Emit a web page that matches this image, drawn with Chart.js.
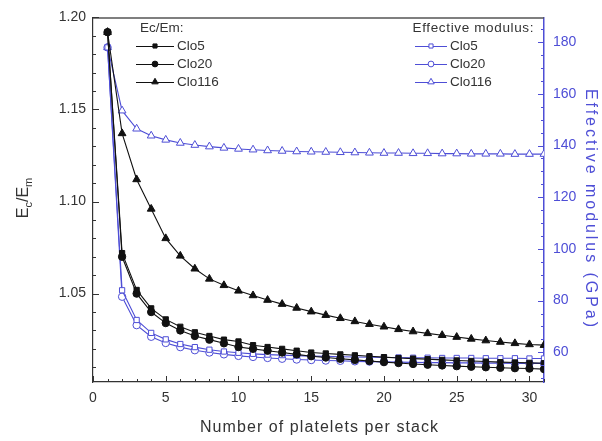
<!DOCTYPE html>
<html>
<head>
<meta charset="utf-8">
<script src="https://cdn.jsdelivr.net/npm/chart.js@4"></script>
<style>
  html, body { margin: 0; padding: 0; background: #fff; }
  #wrap { width: 602px; height: 441px; }
</style>
</head>
<body>
<div id="wrap"><canvas id="chart"></canvas></div>
<script>
// platelets per stack
const platelets = [1, 2, 3, 4, 5, 6, 7, 8, 9, 10, 11, 12, 13, 14, 15, 16, 17, 18, 19, 20,
  21, 22, 23, 24, 25, 26, 27, 28, 29, 30, 31];

// Ec/Em (left axis)
const ratioClo5 = [1.192, 1.072, 1.052, 1.042, 1.036, 1.032, 1.029, 1.027, 1.025, 1.024,
  1.022, 1.021, 1.020, 1.019, 1.018, 1.0175, 1.017, 1.0165, 1.016, 1.0155, 1.015,
  1.0147, 1.0144, 1.014, 1.0137, 1.0134, 1.0131, 1.0128, 1.0126, 1.0124, 1.0122];
const ratioClo20 = [1.192, 1.070, 1.050, 1.040, 1.034, 1.030, 1.027, 1.025, 1.023, 1.021,
  1.020, 1.019, 1.018, 1.017, 1.016, 1.0153, 1.0146, 1.014, 1.0134, 1.0128, 1.0123,
  1.0118, 1.0114, 1.011, 1.0106, 1.0103, 1.010, 1.0097, 1.0095, 1.0093, 1.009];
const ratioClo116 = [1.192, 1.137, 1.112, 1.096, 1.080, 1.0705, 1.0635, 1.058, 1.0545, 1.0515,
  1.049, 1.0465, 1.0443, 1.0422, 1.0402, 1.0383, 1.0366, 1.0349, 1.0334, 1.032, 1.0306,
  1.0294, 1.0284, 1.0274, 1.0264, 1.0254, 1.0245, 1.0237, 1.023, 1.0224, 1.022];

// effective modulus, GPa (right axis)
const modClo5 = [178, 84, 72.5, 67.5, 65, 63.2, 62, 61, 60.3, 59.8, 59.4, 59.1, 58.9, 58.7,
  58.5, 58.4, 58.3, 58.2, 58.1, 58.0, 58.0, 57.9, 57.9, 57.8, 57.8, 57.8, 57.7, 57.7,
  57.7, 57.6, 57.6];
const modClo20 = [178, 81.5, 70.5, 66, 63.6, 62, 60.8, 59.9, 59.2, 58.6, 58.2, 57.8, 57.5,
  57.2, 57.0, 56.8, 56.7, 56.5, 56.4, 56.3, 56.2, 56.1, 56.0, 56.0, 55.9, 55.9, 55.8,
  55.8, 55.7, 55.7, 55.7];
const modClo116 = [178, 153.5, 146.5, 143.8, 142.2, 141, 140.2, 139.6, 139.1, 138.7, 138.4,
  138.1, 137.9, 137.7, 137.6, 137.5, 137.4, 137.3, 137.2, 137.1, 137.1, 137.0, 137.0,
  136.9, 136.9, 136.8, 136.8, 136.8, 136.7, 136.7, 136.7];

const xTicks = [0, 5, 10, 15, 20, 25, 30];
const leftTicks = [1.05, 1.10, 1.15, 1.20];
const rightTicks = [60, 80, 100, 120, 140, 160, 180];

const BLUE = "#4e4ed6";
const INK = "#333";
const FONT = "'Liberation Sans', Arial, sans-serif";

const pts = vals => platelets.map((x, i) => ({ x: x, y: vals[i] }));

function series(label, vals, axis, color, style, filled) {
  return {
    label: label,
    data: pts(vals),
    yAxisID: axis,
    borderColor: color,
    backgroundColor: filled ? color : "#fff",
    pointBorderColor: color,
    pointBackgroundColor: filled ? color : "#fff",
    pointStyle: style,
    pointRadius: style === "triangle" ? 4.5 : 3.7,
    pointBorderWidth: 1,
    borderWidth: 1.1,
    tension: 0
  };
}

// draw text stretched to a given length with letter spacing
function fitText(ctx, text, size, target, x, y) {
  ctx.font = size + "px " + FONT;
  ctx.letterSpacing = "0px";
  const w = ctx.measureText(text).width;
  const sp = Math.max(0, (target - w) / (text.length - 1));
  ctx.letterSpacing = sp + "px";
  ctx.textAlign = "left";
  ctx.fillText(text, x - (w + sp * (text.length - 1)) / 2, y);
  ctx.letterSpacing = "0px";
}

// inward ticks, top edge, legends and axis titles
const decor = {
  id: "decor",
  afterDraw(chart) {
    const { ctx, chartArea: a, scales } = chart;
    ctx.save();

    ctx.strokeStyle = "#555";
    ctx.lineWidth = 1.5;
    ctx.beginPath();
    ctx.moveTo(a.left, a.top + 0.5);
    ctx.lineTo(a.right, a.top + 0.5);
    ctx.stroke();
    ctx.lineWidth = 1;

    function vTicks(scale, from, to, step, majors, x, dir, color) {
      ctx.strokeStyle = color;
      for (let v = from; v <= to + 1e-9; v += step) {
        const y = Math.round(scale.getPixelForValue(v)) + 0.5;
        if (y < a.top || y > a.bottom) continue;
        const major = majors.some(m => Math.abs(m - v) < 1e-6);
        ctx.beginPath();
        ctx.moveTo(x, y);
        ctx.lineTo(x + dir * (major ? 6 : 3), y);
        ctx.stroke();
      }
    }
    vTicks(scales.y, 1.00, 1.20, 0.01, leftTicks, a.left, 1, INK);
    vTicks(scales.y2, 50, 185, 5, rightTicks, a.right, -1, BLUE);

    ctx.strokeStyle = INK;
    for (let v = 0; v <= 31; v++) {
      const x = Math.round(scales.x.getPixelForValue(v)) + 0.5;
      const major = v % 5 === 0;
      ctx.beginPath();
      ctx.moveTo(x, a.bottom);
      ctx.lineTo(x, a.bottom - (major ? 6 : 3));
      ctx.stroke();
    }

    // legends
    ctx.textBaseline = "middle";
    ctx.fillStyle = INK;
    ctx.font = "13.5px " + FONT;
    ctx.textAlign = "left";
    ctx.fillText("Ec/Em:", 140, 28);
    fitText(ctx, "Effective modulus:", 13.5, 121, 473, 28);
    const rows = [46, 64, 82];
    const groups = [
      { x0: 136, x1: 174, mk: 155, tx: 177, sets: [0, 1, 2] },
      { x0: 415, x1: 447, mk: 431, tx: 450, sets: [3, 4, 5] }
    ];
    groups.forEach(g => {
      g.sets.forEach((di, r) => {
        const ds = chart.data.datasets[di];
        const y = rows[r];
        ctx.strokeStyle = ds.borderColor;
        ctx.beginPath();
        ctx.moveTo(g.x0, y + 0.5);
        ctx.lineTo(g.x1, y + 0.5);
        ctx.stroke();
        ctx.fillStyle = ds.pointBackgroundColor;
        Chart.helpers.drawPoint(ctx, {
          pointStyle: ds.pointStyle,
          radius: ds.pointRadius - 0.8,
          borderWidth: 1,
          rotation: 0
        }, g.mk, y);
        ctx.font = "13.5px " + FONT;
        ctx.textAlign = "left";
        ctx.fillStyle = INK;
        ctx.fillText(ds.label, g.tx, y);
      });
    });

    // x axis title
    ctx.fillStyle = INK;
    fitText(ctx, "Number of platelets per stack", 16, 238, 319, 428);

    // right axis title
    ctx.save();
    ctx.translate(590, 208);
    ctx.rotate(Math.PI / 2);
    ctx.fillStyle = BLUE;
    fitText(ctx, "Effective modulus (GPa)", 16, 238, 0, 0);
    ctx.restore();

    // left axis title E_c/E_m
    ctx.translate(22, 198);
    ctx.rotate(-Math.PI / 2);
    ctx.fillStyle = INK;
    ctx.textBaseline = "alphabetic";
    ctx.textAlign = "left";
    const parts = [["E", 16, 0], ["c", 11, 4], ["/E", 16, 0], ["m", 11, 4]];
    let w = 0;
    parts.forEach(p => { ctx.font = p[1] + "px " + FONT; w += ctx.measureText(p[0]).width; });
    let cx = -w / 2;
    parts.forEach(p => {
      ctx.font = p[1] + "px " + FONT;
      ctx.fillText(p[0], cx, 6 + p[2]);
      cx += ctx.measureText(p[0]).width;
    });
    ctx.restore();
  }
};

new Chart(document.getElementById("chart"), {
  type: "line",
  data: {
    datasets: [
      series("Clo5", ratioClo5, "y", "#111", "rect", true),
      series("Clo20", ratioClo20, "y", "#111", "circle", true),
      series("Clo116", ratioClo116, "y", "#111", "triangle", true),
      series("Clo5", modClo5, "y2", BLUE, "rect", false),
      series("Clo20", modClo20, "y2", BLUE, "circle", false),
      series("Clo116", modClo116, "y2", BLUE, "triangle", false)
    ]
  },
  options: {
    responsive: true,
    maintainAspectRatio: false,
    animation: false,
    layout: { padding: { top: 15, left: 0, right: 0, bottom: 0 } },
    plugins: { legend: { display: false }, tooltip: { enabled: false } },
    scales: {
      x: {
        type: "linear",
        min: 0,
        max: 31,
        afterBuildTicks: s => { s.ticks = xTicks.map(v => ({ value: v })); },
        afterFit: s => { s.height = 59; },
        grid: { display: false, drawTicks: false },
        border: { color: INK, width: 1.2 },
        ticks: { color: INK, font: { family: FONT, size: 14 }, padding: 8, maxRotation: 0 }
      },
      y: {
        position: "left",
        min: 1.002,
        max: 1.20,
        afterBuildTicks: s => { s.ticks = leftTicks.map(v => ({ value: v })); },
        afterFit: s => { s.width = 93; },
        grid: { display: false, drawTicks: false },
        border: { color: INK, width: 1.2 },
        ticks: { color: INK, font: { family: FONT, size: 14 }, padding: 7,
          callback: v => v.toFixed(2) }
      },
      y2: {
        position: "right",
        min: 48.5,
        max: 189.6,
        afterBuildTicks: s => { s.ticks = rightTicks.map(v => ({ value: v })); },
        afterFit: s => { s.width = 58; },
        grid: { display: false, drawTicks: false },
        border: { color: BLUE, width: 1.5 },
        ticks: { color: BLUE, font: { family: FONT, size: 14 }, padding: 9 }
      }
    }
  },
  plugins: [decor]
});
</script>
</body>
</html>
